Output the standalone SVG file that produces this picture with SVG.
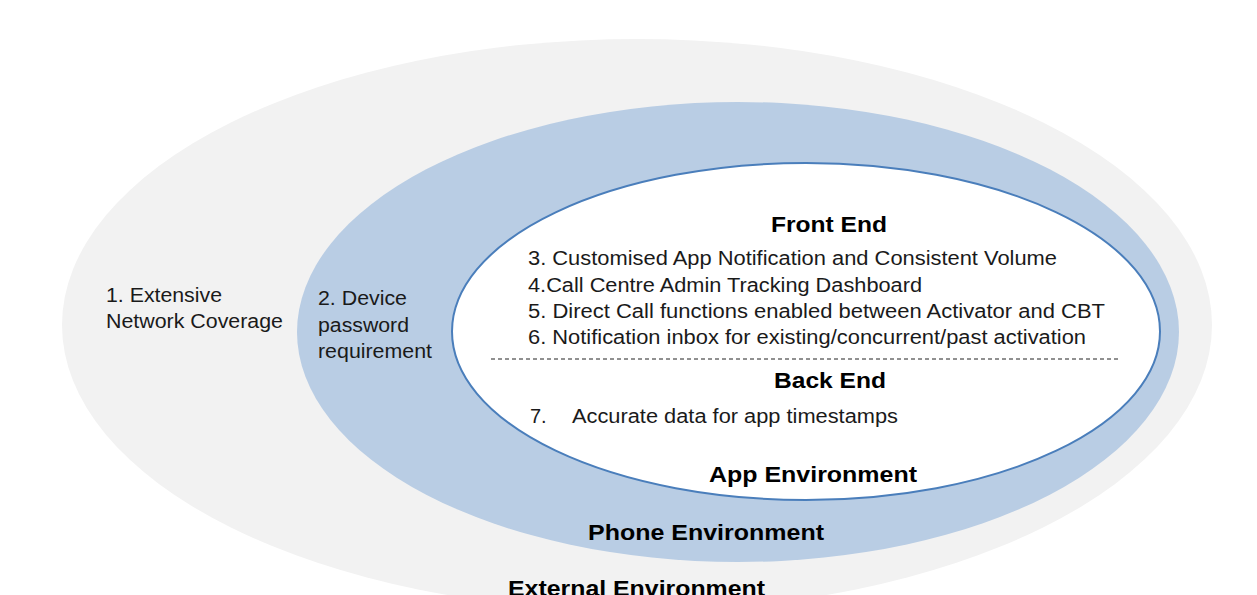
<svg xmlns="http://www.w3.org/2000/svg" width="1257" height="595" viewBox="0 0 1257 595">
<style>
.t{font-family:"Liberation Sans",Arial,sans-serif;font-size:20px;fill:#1a1a1a}
.b{font-family:"Liberation Sans",Arial,sans-serif;font-size:22px;font-weight:bold;fill:#000}
</style>
<rect width="1257" height="595" fill="#ffffff"/>
<g id="external">
<ellipse cx="637" cy="325" rx="575" ry="286" fill="#f2f2f2"/>
</g>
<g id="phone">
<ellipse cx="738" cy="332" rx="441" ry="230" fill="#b9cde4"/>
</g>
<g id="app">
<ellipse cx="806" cy="331.5" rx="354" ry="168.5" fill="#ffffff" stroke="#4a7ebb" stroke-width="2"/>
<line x1="491" y1="359" x2="1121" y2="359" stroke="#222" stroke-width="1" stroke-dasharray="4,3"/>
</g>
<g id="connectors"></g>
<g id="labels">
<text class="b" x="771" y="232" textLength="116" lengthAdjust="spacingAndGlyphs">Front End</text>
<text class="t" x="528" y="265" textLength="529" lengthAdjust="spacingAndGlyphs">3. Customised App Notification and Consistent Volume</text>
<text class="t" x="528" y="292" textLength="394" lengthAdjust="spacingAndGlyphs">4.Call Centre Admin Tracking Dashboard</text>
<text class="t" x="528" y="318" textLength="577" lengthAdjust="spacingAndGlyphs">5. Direct Call functions enabled between Activator and CBT</text>
<text class="t" x="528" y="344" textLength="558" lengthAdjust="spacingAndGlyphs">6. Notification inbox for existing/concurrent/past activation</text>
<text class="b" x="774" y="388" textLength="112" lengthAdjust="spacingAndGlyphs">Back End</text>
<text class="t" x="530" y="423">7.</text>
<text class="t" x="572" y="423" textLength="326" lengthAdjust="spacingAndGlyphs">Accurate data for app timestamps</text>
<text class="b" x="709" y="482" textLength="208" lengthAdjust="spacingAndGlyphs">App Environment</text>
<text class="b" x="588" y="540" textLength="236" lengthAdjust="spacingAndGlyphs">Phone Environment</text>
<text class="b" x="508" y="596" textLength="257" lengthAdjust="spacingAndGlyphs">External Environment</text>
<text class="t" x="106" y="302" textLength="116" lengthAdjust="spacingAndGlyphs">1. Extensive</text>
<text class="t" x="106" y="328" textLength="177" lengthAdjust="spacingAndGlyphs">Network Coverage</text>
<text class="t" x="318" y="305" textLength="89" lengthAdjust="spacingAndGlyphs">2. Device</text>
<text class="t" x="318" y="332" textLength="91" lengthAdjust="spacingAndGlyphs">password</text>
<text class="t" x="318" y="358" textLength="114" lengthAdjust="spacingAndGlyphs">requirement</text>
</g>
</svg>
